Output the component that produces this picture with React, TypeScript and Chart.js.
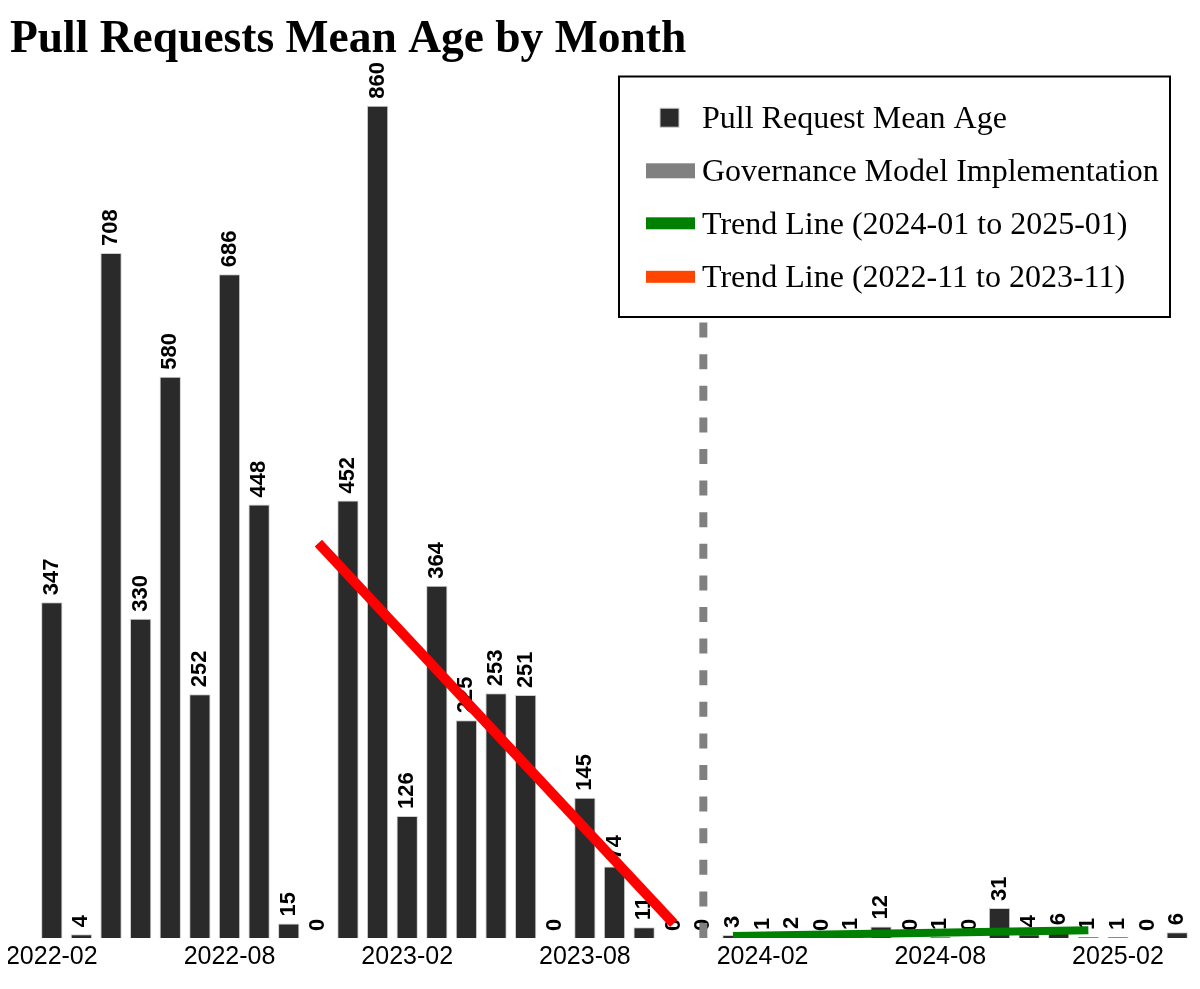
import React, { useEffect, useRef } from "react";
import { Chart, registerables } from "chart.js";

Chart.register(...registerables);

const MONTHS = [
  "2022-02", "2022-03", "2022-04", "2022-05", "2022-06", "2022-07", "2022-08", "2022-09", "2022-10", "2022-11", "2022-12",
  "2023-01", "2023-02", "2023-03", "2023-04", "2023-05", "2023-06", "2023-07", "2023-08", "2023-09", "2023-10", "2023-11", "2023-12",
  "2024-01", "2024-02", "2024-03", "2024-04", "2024-05", "2024-06", "2024-07", "2024-08", "2024-09", "2024-10", "2024-11", "2024-12",
  "2025-01", "2025-02", "2025-03", "2025-04",
];

const MEAN_AGE = [
  347, 4, 708, 330, 580, 252, 686, 448, 15, 0, 452,
  860, 126, 364, 225, 253, 251, 0, 145, 74, 11, 0, 0,
  3, 1, 2, 0, 1, 12, 0, 1, 0, 31, 4, 6,
  1, 1, 0, 6,
];

const TICK_MONTHS = ["2022-02", "2022-08", "2023-02", "2023-08", "2024-02", "2024-08", "2025-02"];

const GOVERNANCE_MONTH = "2023-12";
const Y_MAX = 885;

const TREND_OLD_MONTHS = ["2022-11", "2023-11"];
const TREND_OLD_VALUES = [408, 15];
const TREND_NEW_MONTHS = ["2024-01", "2025-01"];
const TREND_NEW_VALUES = [2, 8];

const TITLE = "Pull Requests Mean Age by Month";
const LEGEND_ITEMS = [
  { label: "Pull Request Mean Age", kind: "square", color: "#2a2a2a", thick: 19 },
  { label: "Governance Model Implementation", kind: "line", color: "#808080", thick: 15 },
  { label: "Trend Line (2024-01 to 2025-01)", kind: "line", color: "#008000", thick: 12 },
  { label: "Trend Line (2022-11 to 2023-11)", kind: "line", color: "#ff4500", thick: 12 },
];

const barLabelPlugin = {
  id: "barLabels",
  afterDatasetDraw(chart: any, args: any) {
    if (args.index !== 0) return;
    const ctx = chart.ctx;
    ctx.save();
    ctx.font = "bold 22px 'Liberation Sans', Arial, sans-serif";
    ctx.fillStyle = "#000";
    ctx.textAlign = "left";
    ctx.textBaseline = "middle";
    args.meta.data.forEach((bar: any, i: number) => {
      ctx.save();
      ctx.translate(bar.x, bar.y - 7);
      ctx.rotate(-Math.PI / 2);
      ctx.fillText(String(MEAN_AGE[i]), 0, 0);
      ctx.restore();
    });
    ctx.restore();
  },
};

const legendPlugin = {
  id: "boxLegend",
  afterDraw(chart: any) {
    const ctx = chart.ctx;
    const bx = 611, by = 68.5, bw = 551, bh = 240.5;
    ctx.save();
    ctx.fillStyle = "#fff";
    ctx.fillRect(bx, by, bw, bh);
    ctx.strokeStyle = "#000";
    ctx.lineWidth = 2;
    ctx.strokeRect(bx, by, bw, bh);
    const rows = [109.7, 162.8, 215.3, 268.8];
    ctx.font = "32px 'Liberation Serif', 'Times New Roman', serif";
    ctx.textAlign = "left";
    ctx.textBaseline = "middle";
    LEGEND_ITEMS.forEach((it, i) => {
      const cy = rows[i];
      if (it.kind === "square") {
        ctx.fillStyle = it.color;
        ctx.fillRect(652, cy - 9.5, 19, 19);
        ctx.strokeStyle = "#cfcfcf";
        ctx.lineWidth = 1;
        ctx.strokeRect(652, cy - 9.5, 19, 19);
      } else {
        ctx.fillStyle = it.color;
        ctx.fillRect(638, cy - it.thick / 2, 49, it.thick);
      }
      ctx.fillStyle = "#000";
      ctx.fillText(it.label, 694, cy + 2);
    });
    ctx.restore();
  },
};

export default function App() {
  const ref = useRef<HTMLCanvasElement | null>(null);
  useEffect(() => {
    if (!ref.current) return;
    const chart = new Chart(ref.current, {
      type: "bar",
      data: {
        labels: MONTHS,
        datasets: [
          {
            type: "bar",
            label: "Pull Request Mean Age",
            data: MEAN_AGE,
            backgroundColor: "#2a2a2a",
            borderColor: "#cfcfcf",
            borderWidth: 1,
            barPercentage: 0.72,
            categoryPercentage: 1,
            order: 10,
          } as any,
          {
            type: "line",
            label: "Governance Model Implementation",
            data: [
              { x: GOVERNANCE_MONTH, y: 0 },
              { x: GOVERNANCE_MONTH, y: Y_MAX },
            ],
            borderColor: "#808080",
            borderWidth: 8,
            borderDash: [15, 16.6],
            pointRadius: 0,
            fill: false,
            order: 3,
          } as any,
          {
            type: "line",
            label: "Trend Line (2024-01 to 2025-01)",
            data: TREND_NEW_MONTHS.map((m, i) => ({ x: m, y: TREND_NEW_VALUES[i] })),
            borderColor: "#008000",
            borderWidth: 8,
            pointRadius: 0,
            fill: false,
            order: 2,
          } as any,
          {
            type: "line",
            label: "Trend Line (2022-11 to 2023-11)",
            data: TREND_OLD_MONTHS.map((m, i) => ({ x: m, y: TREND_OLD_VALUES[i] })),
            borderColor: "#ff0000",
            borderWidth: 10,
            pointRadius: 0,
            fill: false,
            order: 1,
          } as any,
        ],
      },
      options: {
        animation: false,
        responsive: true,
        maintainAspectRatio: false,
        layout: { padding: { left: 2, right: 0, top: 0, bottom: 5 } },
        plugins: {
          legend: { display: false },
          tooltip: { enabled: false },
          title: {
            display: true,
            text: TITLE,
            align: "start",
            color: "#000",
            font: { family: "'Liberation Serif', 'Times New Roman', serif", size: 45.5, weight: "bold" },
            padding: { top: 5, bottom: 14 },
          },
        },
        scales: {
          x: {
            type: "category",
            offset: true,
            grid: { display: false, drawTicks: false },
            border: { display: false },
            afterFit: (s: any) => {
              s.paddingLeft = 29;
              s.paddingRight = 0;
            },
            ticks: {
              autoSkip: false,
              maxRotation: 0,
              minRotation: 0,
              padding: 4,
              color: "#000",
              font: { family: "'Liberation Sans', Arial, sans-serif", size: 25 },
              callback: (_v: any, i: number) => (TICK_MONTHS.includes(MONTHS[i]) ? MONTHS[i] : ""),
            },
          },
          y: { display: false, min: 0, max: Y_MAX },
        },
      },
      plugins: [barLabelPlugin, legendPlugin],
    });
    return () => chart.destroy();
  }, []);
  return (
    <div style={{ width: 1184, height: 973, position: "relative" }}>
      <canvas ref={ref} />
    </div>
  );
}
